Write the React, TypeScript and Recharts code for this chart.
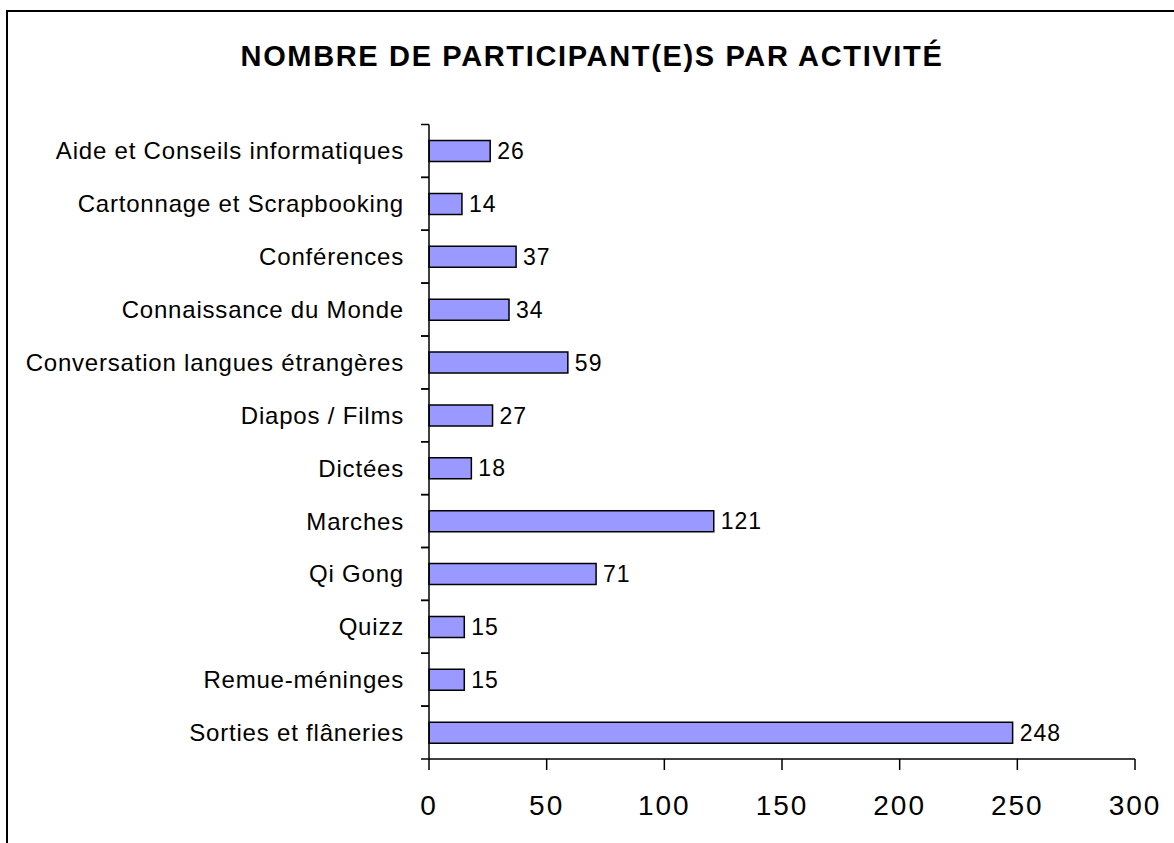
import { Bar, BarChart, LabelList, XAxis, YAxis } from 'recharts';

const activities = [
  'Aide et Conseils informatiques',
  'Cartonnage et Scrapbooking',
  'Conférences',
  'Connaissance du Monde',
  'Conversation langues étrangères',
  'Diapos / Films',
  'Dictées',
  'Marches',
  'Qi Gong',
  'Quizz',
  'Remue-méninges',
  'Sorties et flâneries',
];
const participants = [26, 14, 37, 34, 59, 27, 18, 121, 71, 15, 15, 248];
const xTicks = [0, 50, 100, 150, 200, 250, 300];

const FONT = '"Liberation Sans", Arial, sans-serif';

// category label plus Excel-style ticks on the band boundaries
const CategoryTick = (props: any) => {
  const { x, y, payload } = props;
  const half = payload.offset ?? 0;
  const axisX = x + 25;
  return (
    <g>
      <line x1={axisX - 8} x2={axisX} y1={y - half} y2={y - half} stroke="#000" strokeWidth={1.5} />
      <line x1={axisX - 8} x2={axisX} y1={y + half} y2={y + half} stroke="#000" strokeWidth={1.5} />
      <text
        x={x}
        y={y}
        dy="0.355em"
        textAnchor="end"
        fontSize={24}
        fill="#000"
        fontFamily={FONT}
        letterSpacing={0.8}
      >
        {payload.value}
      </text>
    </g>
  );
};

const App = () => {
  const data = activities.map((name, i) => ({ name, value: participants[i] }));

  return (
    <div style={{ position: 'absolute', left: 0, top: 0, width: 1174, height: 843, fontFamily: FONT }}>
      {/* chart frame: only top and left edges fall inside the picture */}
      <div
        style={{
          position: 'absolute',
          left: 6,
          top: 10,
          width: 1300,
          height: 900,
          borderTop: '2px solid #000',
          borderLeft: '2px solid #000',
        }}
      />
      <div
        style={{
          position: 'absolute',
          left: 0,
          top: 42,
          width: 1184,
          textAlign: 'center',
          fontSize: 29,
          lineHeight: 1,
          fontWeight: 'bold',
          letterSpacing: 1.65,
          color: '#000',
        }}
      >
        NOMBRE DE PARTICIPANT(E)S PAR ACTIVITÉ
      </div>
      <div style={{ position: 'absolute', left: 0, top: 0 }}>
        <BarChart
          width={1174}
          height={843}
          data={data}
          layout="vertical"
          margin={{ top: 124.5, right: 39, bottom: 0, left: 0 }}
        >
          <XAxis
            type="number"
            domain={[0, 300]}
            ticks={xTicks}
            interval={0}
            height={84}
            tickSize={11}
            tickMargin={25}
            stroke="#000"
            strokeWidth={1.5}
            tick={{ fontSize: 28, fill: '#000', fontFamily: FONT, letterSpacing: 2 }}
          />
          <YAxis
            type="category"
            dataKey="name"
            width={429}
            interval={0}
            stroke="#000"
            strokeWidth={1.5}
            tickLine={false}
            tickSize={0}
            tickMargin={25}
            tick={<CategoryTick />}
          />
          <Bar
            dataKey="value"
            fill="#9999FF"
            stroke="#000"
            strokeWidth={1.5}
            barSize={21}
            isAnimationActive={false}
          >
            <LabelList
              dataKey="value"
              position="right"
              offset={7}
              fill="#000"
              fontSize={23}
              fontFamily={FONT}
              letterSpacing={1}
            />
          </Bar>
        </BarChart>
      </div>
    </div>
  );
};

export default App;
